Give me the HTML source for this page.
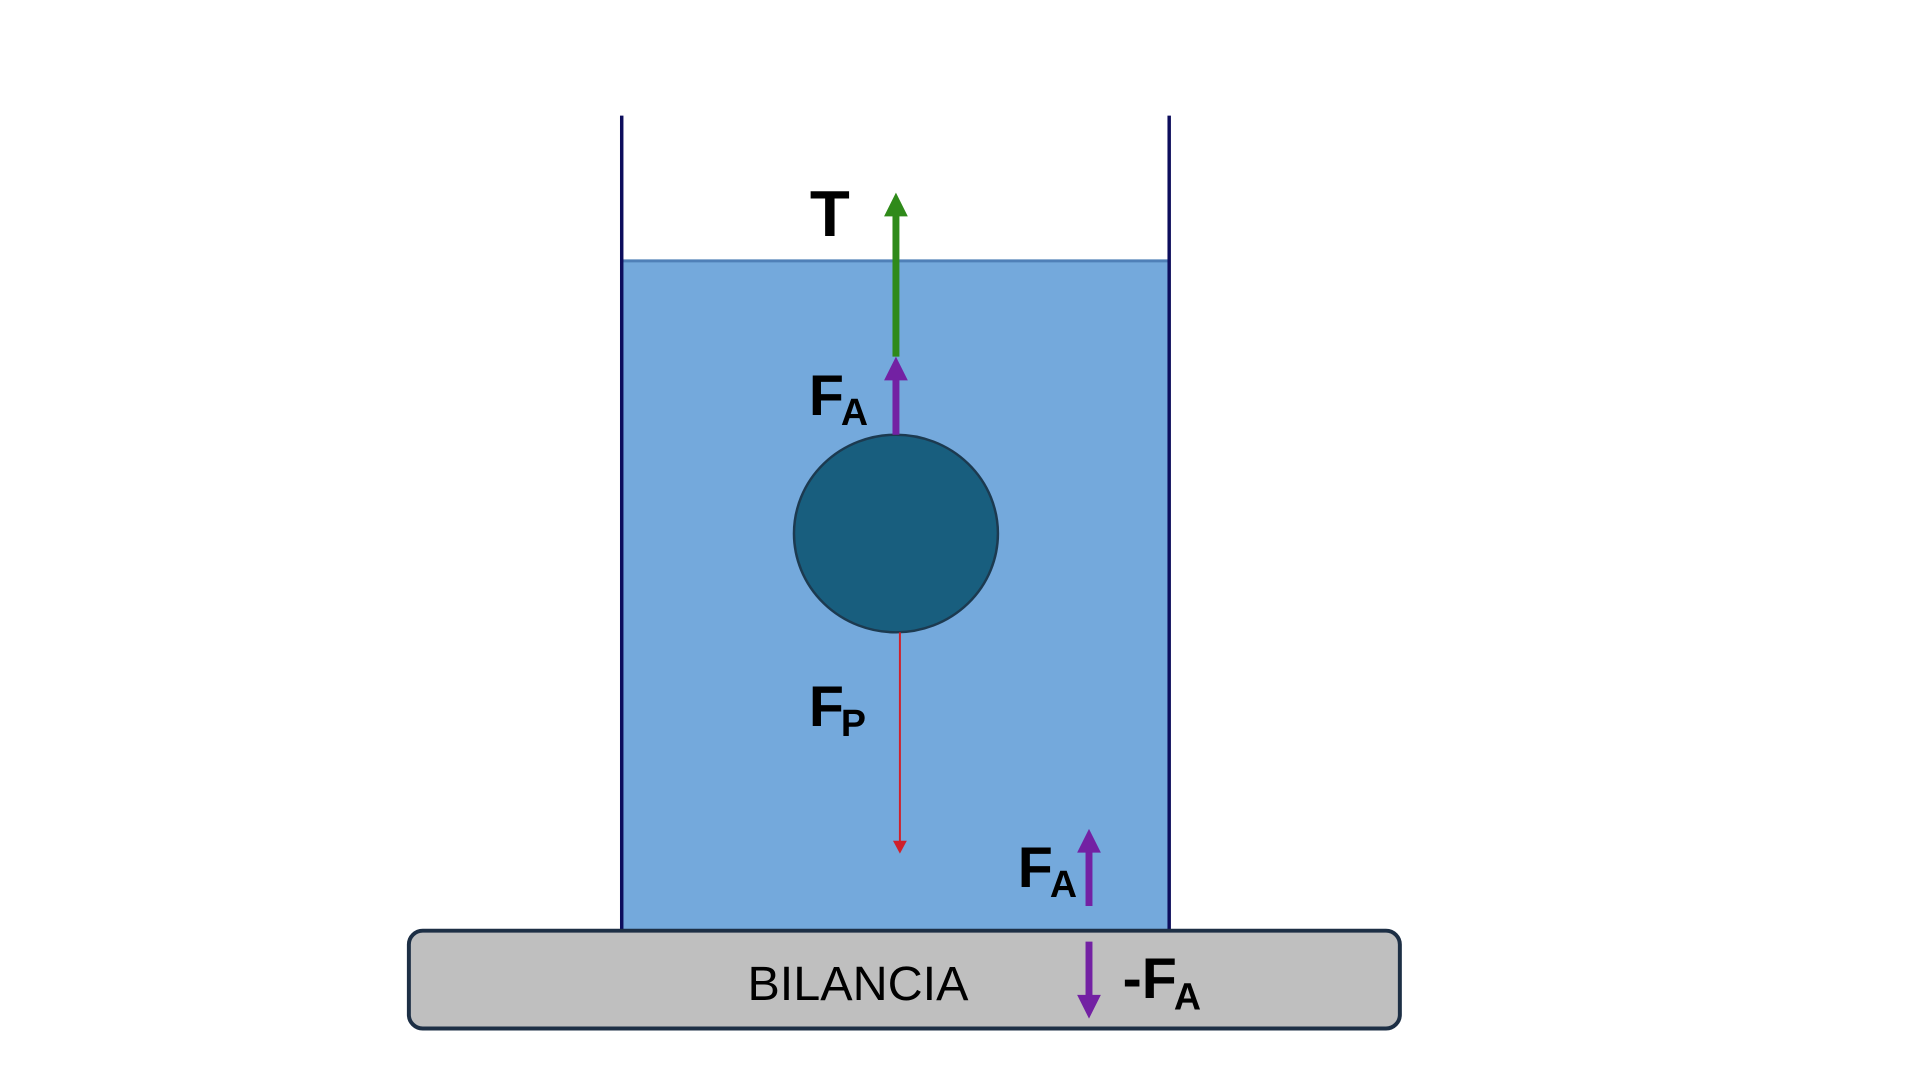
<!DOCTYPE html>
<html><head><style>
html,body{margin:0;padding:0;background:#fff;}
svg{display:block;}
text{font-family:"Liberation Sans",Arial,sans-serif;fill:#000;}
</style></head><body>
<svg width="1920" height="1080" viewBox="0 0 1920 1080">
<g transform="scale(0.99,0.988)">
<rect x="628" y="263" width="552" height="680" fill="#74a9dc"/>
<line x1="628" y1="264" x2="1180" y2="264" stroke="#4f80b8" stroke-width="3"/>
<line x1="628" y1="117" x2="628" y2="942" stroke="#0d0d5c" stroke-width="3.5"/>
<line x1="1181" y1="117" x2="1181" y2="942" stroke="#0d0d5c" stroke-width="3.5"/>
<rect x="413" y="942" width="1001" height="99" rx="14" fill="#bfbfbf" stroke="#1d2f45" stroke-width="4"/>
<ellipse cx="905" cy="540" rx="103" ry="100" fill="#185e7e" stroke="#1c3a50" stroke-width="2.5"/>
<line x1="905" y1="361" x2="905" y2="214" stroke="#2f8a1a" stroke-width="7"/>
<polygon points="905,195 893,219 917,219" fill="#2f8a1a"/>
<line x1="905" y1="440" x2="905" y2="380" stroke="#7321a3" stroke-width="7"/>
<polygon points="905,361 893,385 917,385" fill="#7321a3"/>
<line x1="909" y1="640" x2="909" y2="855" stroke="#d0202a" stroke-width="2"/>
<polygon points="909,864 902,851 916,851" fill="#d0202a"/>
<line x1="1100" y1="917" x2="1100" y2="858" stroke="#7321a3" stroke-width="7"/>
<polygon points="1100,839 1088,863 1112,863" fill="#7321a3"/>
<line x1="1100" y1="953" x2="1100" y2="1012" stroke="#7321a3" stroke-width="7"/>
<polygon points="1100,1031 1088,1007 1112,1007" fill="#7321a3"/>
<text x="818" y="239" font-size="66" font-weight="bold">T</text>
<text x="817" y="420" font-size="58" font-weight="bold">F<tspan font-size="38" dx="-3" dy="10">A</tspan></text>
<text x="817" y="735" font-size="58" font-weight="bold">F<tspan font-size="38" dx="-3" dy="10">P</tspan></text>
<text x="1028" y="898" font-size="58" font-weight="bold">F<tspan font-size="38" dx="-3" dy="10">A</tspan></text>
<text x="1134" y="1010" font-size="58" font-weight="bold">-F<tspan font-size="38" dx="-3" dy="12">A</tspan></text>
<text x="755" y="1012" font-size="49">BILANCIA</text>
</g>
</svg>
</body></html>
